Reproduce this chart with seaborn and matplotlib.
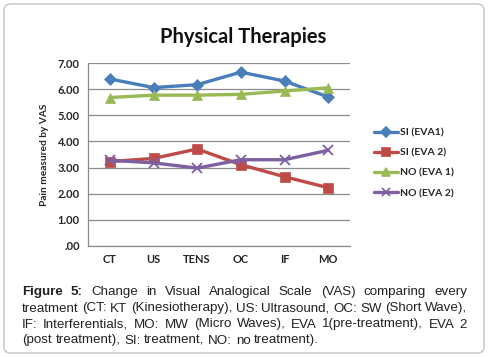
import pandas as pd
import matplotlib
matplotlib.use('Agg')
import matplotlib.pyplot as plt
import seaborn as sns
from matplotlib.patches import FancyBboxPatch
from matplotlib.lines import Line2D

# ---------- data ----------
treatments = ['CT', 'US', 'TENS', 'OC', 'IF', 'MO']
si_eva1 = [6.39, 6.06, 6.17, 6.65, 6.31, 5.70]
si_eva2 = [3.23, 3.35, 3.71, 3.11, 2.65, 2.23]
no_eva1 = [5.68, 5.77, 5.77, 5.80, 5.93, 6.05]
no_eva2 = [3.28, 3.18, 2.98, 3.30, 3.30, 3.66]
series_names = ['SI (EVA1)', 'SI (EVA 2)', 'NO (EVA 1)', 'NO (EVA 2)']
y_ticks = [0, 1, 2, 3, 4, 5, 6, 7]
y_tick_labels = ['.00', '1.00', '2.00', '3.00', '4.00', '5.00', '6.00', '7.00']

df = pd.DataFrame({
    'Tratamento': treatments * 4,
    'VAS': si_eva1 + si_eva2 + no_eva1 + no_eva2,
    'Serie': [s for s in series_names for _ in treatments],
})

cores = {'SI (EVA1)': '#4A7EBB', 'SI (EVA 2)': '#BE4B48',
         'NO (EVA 1)': '#98B954', 'NO (EVA 2)': '#7D60A0'}
marcadores = {'SI (EVA1)': 'D', 'SI (EVA 2)': 's',
              'NO (EVA 1)': '^', 'NO (EVA 2)': 'x'}
tamanhos = {'D': 6, 's': 7, '^': 7, 'x': 7}

W, H = 488, 357
sns.set_theme(style='white')
plt.rcParams['font.family'] = ['Lato', 'DejaVu Sans']
fig = plt.figure(figsize=(W / 100, H / 100), dpi=100)

# borda arredondada
fig.patches.append(FancyBboxPatch((4 / W, 4 / H), (W - 8) / W, (H - 8) / H,
                                  boxstyle='round,pad=0,rounding_size=0.015',
                                  transform=fig.transFigure, facecolor='white',
                                  edgecolor='#c4c4c4', linewidth=1.0, zorder=-5))

ax = fig.add_axes([88 / W, 1 - 246 / H, 262 / W, 183 / H])
for s in series_names:
    sub = df[df['Serie'] == s]
    m = marcadores[s]
    sns.lineplot(data=sub, x='Tratamento', y='VAS', color=cores[s], sort=False,
                 linewidth=2.4, marker=m, markersize=tamanhos[m],
                 markeredgecolor=cores[s], markerfacecolor=cores[s],
                 markeredgewidth=1.3 if m == 'x' else 0.5, ax=ax, legend=False)

ax.set_ylim(0, 7)
ax.set_xlim(-0.5, len(treatments) - 0.5)
ax.set_yticks(y_ticks)
ax.set_yticklabels(y_tick_labels, fontsize=8, fontweight='bold')
ax.set_xticks(range(len(treatments)))
ax.set_xticklabels(treatments, fontsize=8, fontweight='bold')
ax.tick_params(axis='both', length=0, pad=6)
ax.grid(axis='y', color='#8c8c8c', linewidth=0.9)
ax.set_axisbelow(True)
for s in ['top', 'right']:
    ax.spines[s].set_visible(False)
for s in ['left', 'bottom']:
    ax.spines[s].set_color('#8c8c8c')
    ax.spines[s].set_linewidth(0.9)
ax.set_xlabel('')
ax.set_ylabel('Pain measured by VAS', fontsize=7.3, fontweight='bold', labelpad=6)

handles = [Line2D([], [], color=cores[s], linewidth=2.4, marker=marcadores[s],
                  markersize=tamanhos[marcadores[s]] - 1, markeredgecolor=cores[s],
                  markerfacecolor=cores[s], markeredgewidth=1.2)
           for s in series_names]
ax.legend(handles, series_names, loc='center left', bbox_to_anchor=(365 / W, 1 - 163 / H),
          bbox_transform=fig.transFigure, frameon=False,
          handlelength=2.3, handletextpad=0.15, labelspacing=1.05,
          prop={'weight': 'bold', 'size': 7.5})

fig.text(243 / W, 1 - 37 / H, 'Physical Therapies', ha='center', va='center',
         fontsize=14.5, fontweight='bold', color='#111111')

# ---------- legenda do artigo (texto justificado) ----------
linhas = [
    'Figure 5: Change in Visual Analogical Scale (VAS) comparing every',
    'treatment (CT: KT (Kinesiotherapy), US: Ultrasound, OC: SW (Short Wave),',
    'IF: Interferentials, MO: MW (Micro Waves), EVA 1(pre-treatment), EVA 2',
    '(post treatment), SI: treatment, NO: no treatment).',
]
ys = [292, 308.5, 324.5, 340.5]
x0, x1 = 22, 467
fig.canvas.draw()
r = fig.canvas.get_renderer()
for k, (linha, y) in enumerate(zip(linhas, ys)):
    palavras = linha.split(' ')
    textos = []
    for i, p in enumerate(palavras):
        peso = 'bold' if (k == 0 and i < 2) else 'normal'
        textos.append(fig.text(0, 1 - y / H, p, ha='left', va='center',
                               fontsize=9.6, fontweight=peso, color='#222222',
                               family='Liberation Sans'))
    larguras = [t.get_window_extent(r).width for t in textos]
    if k < len(linhas) - 1:
        gap = (x1 - x0 - sum(larguras)) / (len(palavras) - 1)
    else:
        gap = 3.7
    x = x0
    for t, w in zip(textos, larguras):
        t.set_x(x / W)
        x += w + gap

fig.savefig('out.png', dpi=100)
